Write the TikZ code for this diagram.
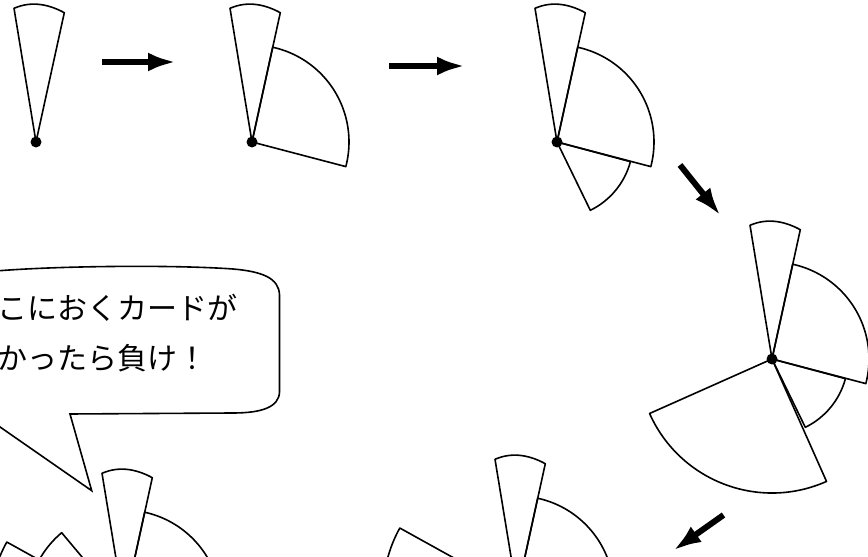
\documentclass[tikz,border=0pt]{standalone}
\usepackage{fontspec}
\newfontfamily\cjk{Noto Sans CJK JP}
\usetikzlibrary{arrows.meta}
\tikzset{
  card/.style={draw=black, line width=1.6pt, line join=round},
  bubble/.style={draw=black, line width=1.6pt, line join=miter},
  bigarrow/.style={line width=6pt, -{Latex[length=28pt,width=19pt]}},
  pivot/.style={fill=black},
  msg/.style={anchor=base west, inner sep=0pt, font=\cjk\fontsize{30pt}{30pt}\selectfont}
}
\newcommand\narrowcard{\draw[card] (0,0) -- (-22,133.7) .. controls (-6.4,140.5) and (10.4,139) .. (28.3,129.3) -- cycle;}
\newcommand\fanpiece[3]{\draw[card] (0,0) -- (#2:#1) arc[start angle=#2, end angle=#3, radius=#1pt] -- cycle;}
\newcommand\pivotdot{\fill[pivot] (0,0) circle (5.5);}
\begin{document}
\begin{tikzpicture}[x=1pt,y=1pt]
\useasboundingbox (0,0) rectangle (868,557);
\clip (0,0) rectangle (868,557);
% centres of the six stages
\coordinate (c1) at (36,415);
\coordinate (c2) at (252,415);
\coordinate (c3) at (557,415);
\coordinate (c4) at (772,198);
\coordinate (c5) at (517,-36);
\coordinate (c6) at (124,-50);
% stage 1
\begin{scope}[shift={(c1)}]
  \narrowcard \pivotdot
\end{scope}
% stage 2
\begin{scope}[shift={(c2)}]
  \narrowcard
  \fanpiece{97}{77.7}{-14.7}
  \pivotdot
\end{scope}
% stage 3
\begin{scope}[shift={(c3)}]
  \narrowcard
  \fanpiece{97}{77.7}{-14.7}
  \fanpiece{76}{-15}{-64}
  \pivotdot
\end{scope}
% stage 4
\begin{scope}[shift={(c4)}]
  \narrowcard
  \fanpiece{97}{77.7}{-14.7}
  \fanpiece{76}{-15}{-64}
  \fanpiece{134}{-66}{-156}
  \pivotdot
\end{scope}
% stage 5
\begin{scope}[shift={(c5)}]
  \narrowcard
  \fanpiece{97}{77.7}{-14.7}
  \fanpiece{76}{-15}{-64}
  \fanpiece{134}{-66}{-156}
  \fanpiece{134}{151}{204}
  \pivotdot
\end{scope}
% stage 6
\begin{scope}[shift={(c6)}]
  \narrowcard
  \fanpiece{97}{77.7}{-14.7}
  \fanpiece{76}{-15}{-64}
  \fanpiece{134}{-66}{-156}
  \fanpiece{134}{151}{204}
  \fanpiece{97}{130}{151}
  \pivotdot
\end{scope}
% arrows
\coordinate (a1s) at (102,495); \coordinate (a1e) at (176,495);
\coordinate (a2s) at (389,491); \coordinate (a2e) at (465,491);
\coordinate (a3s) at (680,392); \coordinate (a3e) at (720.5,341.5);
\coordinate (a4s) at (723.5,42); \coordinate (a4e) at (673.3,6.5);
\draw[bigarrow] (a1s) -- (a1e);
\draw[bigarrow] (a2s) -- (a2e);
\draw[bigarrow] (a3s) -- (a3e);
\draw[bigarrow] (a4s) -- (a4e);
% speech bubble
\coordinate (btip) at (91.7,66.3);
\draw[bubble] (-10,285.5) .. controls (50,291) and (170,292.5) .. (233,288)
  .. controls (262,285.5) and (279,279) .. (279.5,262) -- (279.5,165)
  .. controls (279,150) and (262,144) .. (233,144) -- (70,143) -- (btip) -- (-10,137);
\node[msg] (line1) at (-3,237) {こにおくカードが};
\node[msg] (line2) at (-3,187) {かったら負け！};
\end{tikzpicture}
\end{document}
